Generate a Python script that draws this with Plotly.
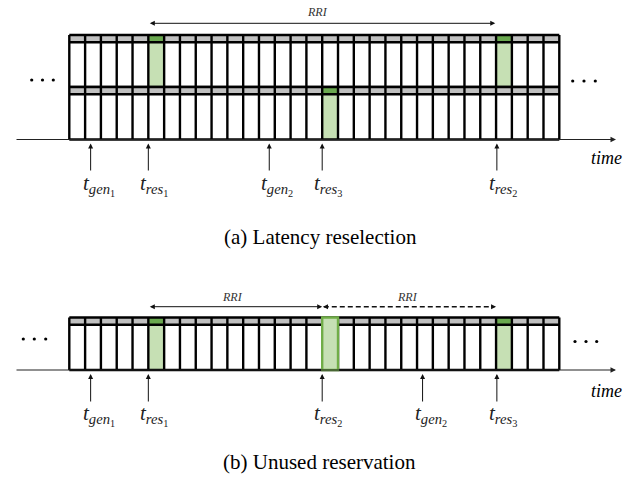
import plotly.graph_objects as go

# ---------------- data ----------------
N_SLOTS = 31

# (a) Latency reselection: two sub-channel rows
A_ROW1_RESERVED = [5, 27]
A_ROW2_RESERVED = [16]
A_EVENT_KIND = ["gen", "res", "gen", "res", "res"]
A_EVENT_IDX = ["1", "1", "2", "3", "2"]
A_EVENT_SLOT = [1.35, 5.0, 12.65, 16.0, 27.05]
A_RRI = [5, 27]

# (b) Unused reservation: one row
B_USED = [5, 27]
B_UNUSED = [16]
B_EVENT_KIND = ["gen", "res", "res", "gen", "res"]
B_EVENT_IDX = ["1", "1", "2", "2", "3"]
B_EVENT_SLOT = [1.35, 5.0, 16.0, 22.35, 27.05]
B_RRI_SOLID = [5, 16]
B_RRI_DASHED = [16, 27]

CAPTION_A = "(a) Latency reselection"
CAPTION_B = "(b) Unused reservation"

# ---------------- styling / layout ----------------
W, H = 642, 489
X0_PX, SLOT_PX = 69.3, 490 / 31
GRAY = "#c0c0c0"
DARK_G = "#6aa84f"
LIGHT_G = "#c6e0b4"
EDGE_G = "#70ad47"
LW = 2.4
SERIF = "Liberation Serif, Times New Roman, DejaVu Serif, serif"


def px(p):
    """convert a horizontal pixel position to slot units"""
    return (p - X0_PX) / SLOT_PX


shapes = []
annotations = []


def rect(x0, x1, y0, y1, fill, line_color=None, line_w=0):
    shapes.append(dict(type="rect", xref="x", yref="y", x0=x0, x1=x1, y0=y0, y1=y1,
                       fillcolor=fill, line=dict(color=line_color or fill, width=line_w),
                       layer="above"))


def line(x0, x1, y0, y1, color="black", width=LW, dash="solid"):
    shapes.append(dict(type="line", xref="x", yref="y", x0=x0, x1=x1, y0=y0, y1=y1,
                       line=dict(color=color, width=width, dash=dash), layer="above"))


def arrow(xh, yh, xt, yt, both=False, width=1.0, size=1.0, color="#111"):
    annotations.append(dict(x=xh, y=yh, ax=xt, ay=yt, xref="x", yref="y",
                            axref="x", ayref="y", text="", showarrow=True,
                            arrowhead=2, arrowsize=size, arrowwidth=width,
                            arrowcolor=color,
                            arrowside="end+start" if both else "end",
                            startarrowhead=2, startarrowsize=size))


def row(top, bottom, used, unused=(), hdr=7.2):
    rect(0, N_SLOTS, top, top + hdr, GRAY)
    for s in used:
        rect(s, s + 1, top, top + hdr, DARK_G)
        rect(s, s + 1, top + hdr, bottom, LIGHT_G)
    for yy in (top, top + hdr, bottom):
        line(0, N_SLOTS, yy, yy)
    for k in range(N_SLOTS + 1):
        line(k, k, top, bottom)
    for s in unused:
        rect(s, s + 1, top, bottom, LIGHT_G, EDGE_G, LW)


def events(slots, kinds, idxs, y_head, y_tail, y_lab):
    for s, kd, ix in zip(slots, kinds, idxs):
        arrow(s, y_head, s, y_tail, width=1.0, size=1.0)
        annotations.append(dict(
            x=s, y=y_lab, xref="x", yref="y", xanchor="left", yanchor="middle",
            xshift=-10, showarrow=False,
            text=f"<i>t</i><sub><i>{kd}</i><sub>{ix}</sub></sub>",
            font=dict(family=SERIF, size=21, color="#222")))


def text(x, y, s, size, italic=False, color="black"):
    annotations.append(dict(x=x, y=y, xref="x", yref="y", showarrow=False,
                            text=f"<i>{s}</i>" if italic else s,
                            font=dict(family=SERIF, size=size, color=color)))


# ---- panel (a)
row(35, 87, A_ROW1_RESERVED)
row(87, 139.5, A_ROW2_RESERVED)
arrow(px(616), 139.5, px(15), 139.5, width=1.1, size=1.0, color="#222")
events(A_EVENT_SLOT, A_EVENT_KIND, A_EVENT_IDX, 143.5, 172, 185)
arrow(A_RRI[1] - 0.05, 23.3, A_RRI[0], 23.3, both=True, width=1.0, size=1.0)
text((A_RRI[0] + A_RRI[1]) / 2 - 0.3, 12, "RRI", 12, italic=True, color="#333")
text(px(606), 158, "time", 18, italic=True)
text(px(320), 237, CAPTION_A, 21)

# ---- panel (b)
row(317.5, 370, B_USED, B_UNUSED)
arrow(px(616), 370, px(15), 370, width=1.1, size=1.0, color="#222")
events(B_EVENT_SLOT, B_EVENT_KIND, B_EVENT_IDX, 374, 403, 415)
arrow(B_RRI_SOLID[1], 306.7, B_RRI_SOLID[0], 306.7, both=True, width=1.0, size=1.0)
line(B_RRI_DASHED[0] + 0.1, B_RRI_DASHED[1] - 0.3, 306.7, 306.7, color="#111", width=1.5,
     dash="5px,3px")
arrow(B_RRI_DASHED[1], 306.7, B_RRI_DASHED[1] - 0.4, 306.7, width=1.0)
arrow(B_RRI_DASHED[0] + 0.05, 306.7, B_RRI_DASHED[0] + 0.45, 306.7, width=1.0)
text((B_RRI_SOLID[0] + B_RRI_SOLID[1]) / 2 - 0.15, 297, "RRI", 12, italic=True, color="#333")
text((B_RRI_DASHED[0] + B_RRI_DASHED[1]) / 2 - 0.1, 297, "RRI", 12, italic=True, color="#333")
text(px(606), 391, "time", 18, italic=True)
text(px(319), 462, CAPTION_B, 21)

# ellipsis dots
dots_x = [px(p) for p in (31.7, 42.5, 53.3, 572.7, 584, 595.3, 23.3, 34.3, 45.7, 575, 586, 596.7)]
dots_y = [80, 80, 80, 81, 81, 81, 339, 339, 339, 341.5, 341.5, 341.5]

fig = go.Figure()
fig.add_trace(go.Scatter(x=dots_x, y=dots_y, mode="markers",
                         marker=dict(size=3.2, color="black"), hoverinfo="skip",
                         showlegend=False))
fig.update_layout(
    width=W, height=H, margin=dict(l=0, r=0, t=0, b=0),
    paper_bgcolor="white", plot_bgcolor="white",
    xaxis=dict(range=[px(0), px(W)], visible=False, fixedrange=True),
    yaxis=dict(range=[H, 0], visible=False, fixedrange=True),
    shapes=shapes, annotations=annotations, showlegend=False,
)
fig.write_html("out.html",
               config={"displayModeBar": False, "staticPlot": True},
               post_script="document.body.style.margin='0';document.body.style.overflow='hidden';")
